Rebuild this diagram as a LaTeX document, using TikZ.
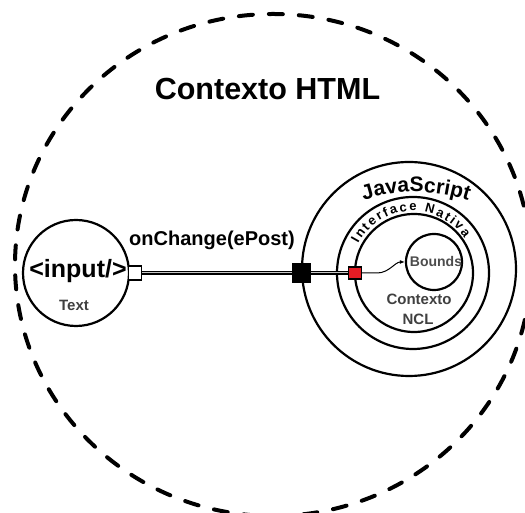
\documentclass[tikz,border=0pt]{standalone}
\usepackage{fontspec}
\setmainfont{Liberation Sans}
\usetikzlibrary{arrows.meta,decorations.text}
\definecolor{sqred}{RGB}{228,28,36}
\begin{document}
\begin{tikzpicture}[x=1pt,y=1pt,
  ring/.style={draw, circle, line width=2.2pt, inner sep=0pt},
  conn/.style={line width=1.2pt, double=gray!45, double distance=1pt},
  port/.style={draw, line width=1.1pt, inner sep=0pt},
  lbl/.style={anchor=base, inner sep=0pt},
  dashring/.style={line width=4pt, dash pattern=on 14pt off 16pt, line cap=round}]
\useasboundingbox (0,0) rectangle (525,513);
\clip (0,0) rectangle (525,513);
% outer dashed context
\draw[dashring] (273,248) ellipse [x radius=258, y radius=251];
% nested contexts
\node[ring, minimum size=214pt] (js) at (409,244) {};
\node[ring, minimum size=152pt] (iface) at (413,240) {};
\node[ring, minimum size=118pt] (ncl) at (414,240) {};
\node[ring, minimum size=56pt] (bounds) at (434,251) {};
\node[ring, minimum size=106pt] (input) at (76,240) {};
% texts
\node[lbl, font=\fontsize{30.5}{36}\selectfont\bfseries] (html) at (267.5,413) {Contexto HTML};
\node[lbl, font=\fontsize{20}{24}\selectfont\bfseries] (onchange) at (212,267) {onChange(ePost)};
\node[lbl, font=\fontsize{25}{30}\selectfont\bfseries] (inputlbl) at (78,235) {<input/>};
\node[lbl, font=\fontsize{15}{18}\selectfont\bfseries, text=black!75] (textlbl) at (74,202) {Text};
\node[lbl, font=\fontsize{14}{17}\selectfont\bfseries, text=black!70] (boundslbl) at (436,246) {Bounds};
\node[lbl, font=\fontsize{15}{18}\selectfont\bfseries, text=black!75] (ncllbl1) at (419,208) {Contexto};
\node[lbl, font=\fontsize{15}{18}\selectfont\bfseries, text=black!75] (ncllbl2) at (418,188) {NCL};
% curved texts
\path[decorate, decoration={text along path, text align=center,
  text={|\fontsize{21}{24}\selectfont\bfseries|JavaScript}}]
  ([shift={(416,151)}]125:170) arc[start angle=125, end angle=55, radius=170];
\path[decorate, decoration={text along path, text align=fit to path,
  text={|\fontsize{13}{15}\selectfont\bfseries|Interface Nativa}}]
  ([shift={(413,240)}]152:62) arc[start angle=152, end angle=34, radius=62];
% ports
\node[port, fill=white, minimum width=13pt, minimum height=14pt] (sq1) at (135,240) {};
\node[port, fill=black, minimum size=18pt] (sq2) at (301.5,240) {};
\node[port, fill=sqred, minimum width=13pt, minimum height=12pt] (sq3) at (355,240) {};
% connectors
\draw[conn] (sq1) -- (sq2);
\draw[conn] (sq2) -- (sq3);
\draw[line width=1pt, -{Latex[length=5pt,width=4pt]}] (sq3.east) -- ++(15,0)
  .. controls +(12,0) and +(-10,0) .. (bounds.west);
\end{tikzpicture}
\end{document}
